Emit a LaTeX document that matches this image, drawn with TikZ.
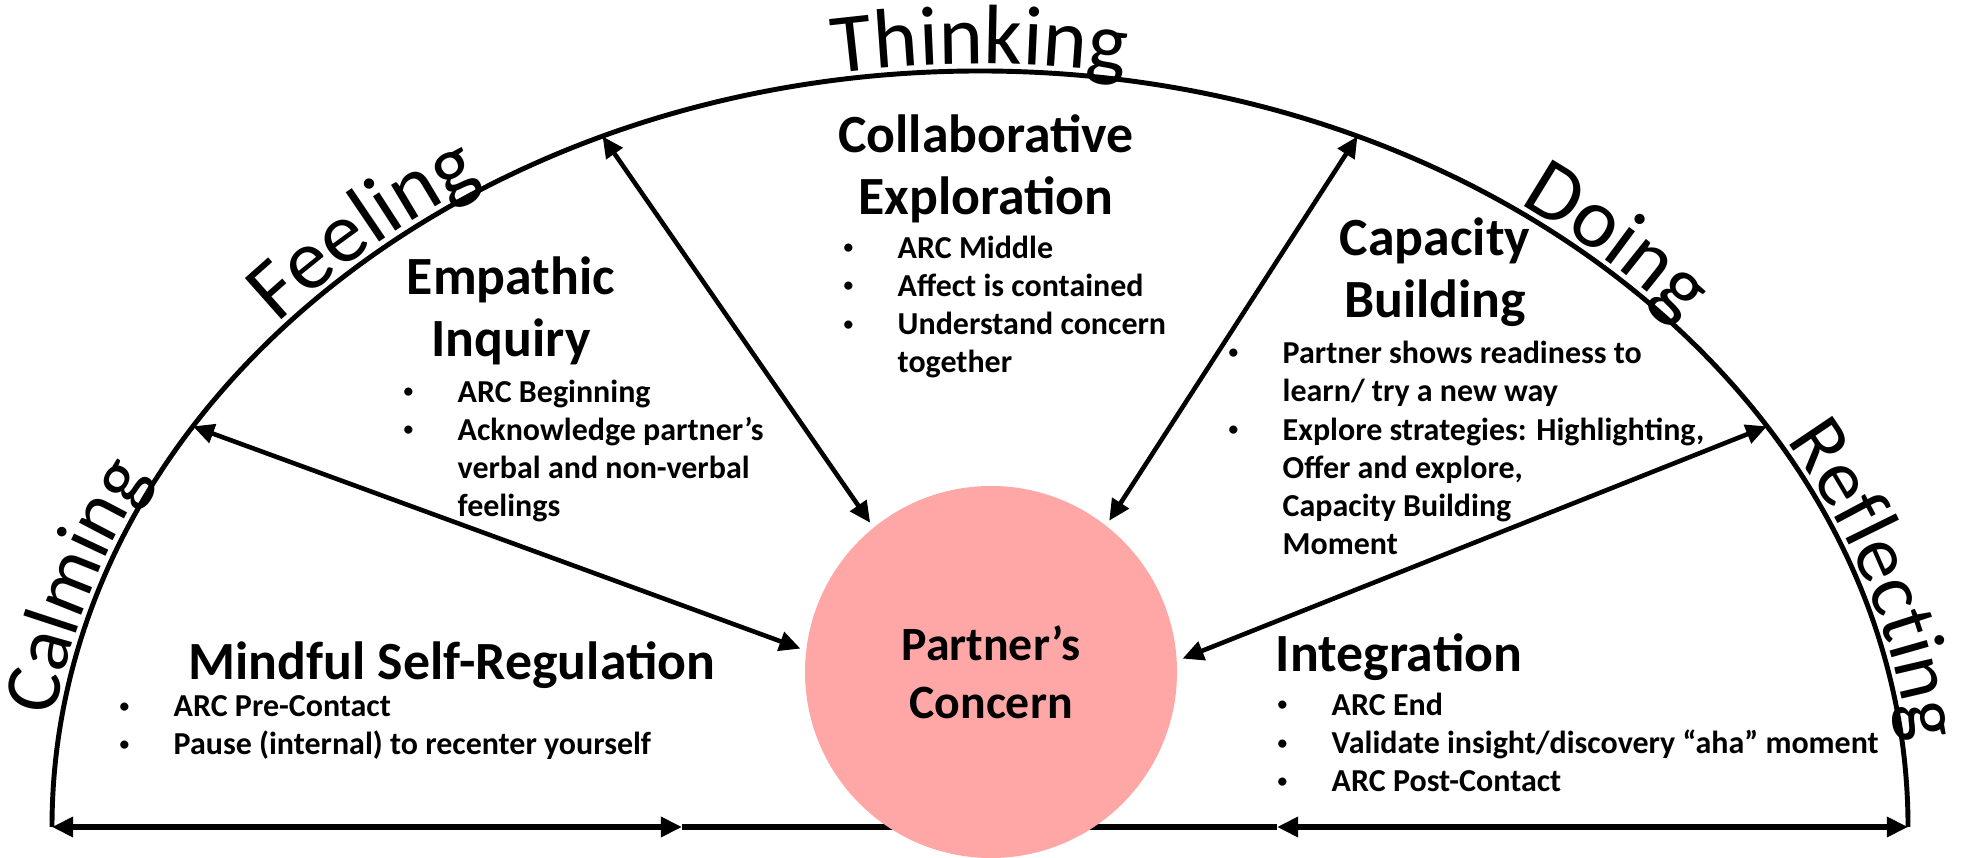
\documentclass[tikz,border=0pt]{standalone}
\usepackage{fontspec}
\setmainfont{Carlito}
\usepackage{tikz}
\usetikzlibrary{arrows.meta,decorations.text}

\definecolor{concernpink}{RGB}{255,166,166}

\newcommand{\labelsize}{24}
\newcommand{\labelfont}{\fontsize{\labelsize}{29}\selectfont}
\newcommand{\titlefont}{\fontsize{15.3}{17.9}\selectfont\bfseries}
\newcommand{\itemfont}{\fontsize{9.1}{10.9}\selectfont\bfseries}
\newcommand{\concernfont}{\fontsize{13.6}{16.5}\selectfont\bfseries}

\newlength{\bulw}
\setlength{\bulw}{0.54cm}
\newcommand{\bul}{\makebox[\bulw][l]{\raisebox{1.3pt}{\fontsize{5.5}{5.5}\selectfont\textbullet}}}
\newcommand{\cont}{\hspace*{\bulw}}

% word set along the outside of the half ellipse
\newcommand{\arclabel}[4][24]{%
        \renewcommand{\labelsize}{#1}%
        \path[decorate, decoration={text along path, text align=center, text={|\labelfont|#4}}]
                ([shift={(centre)}]#2:9.35cm and 7.63cm) arc[start angle=#2, end angle=#3, x radius=9.35, y radius=7.63];}

\begin{document}
\begin{tikzpicture}[
        stagetitle/.style={font=\titlefont, align=center, inner sep=0pt, anchor=base},
        stageitems/.style={font=\itemfont, align=left, inner sep=0pt, anchor=base west},
        rim/.style={line width=1.4pt},
        floor line/.style={line width=1.8pt},
        link/.style={line width=1.3pt},
        >={Triangle[length=6pt,width=5.5pt]}
        ]
        \useasboundingbox (0,0) rectangle (19.64,8.58);

        \coordinate (centre) at (9.80,0.31);
        \coordinate (baseL) at ([shift={(centre)}]180:9.28cm and 7.56cm);
        \coordinate (baseR) at ([shift={(centre)}]0:9.28cm and 7.56cm);
        \coordinate (midL) at (6.82,0.31);
        \coordinate (midR) at (12.77,0.31);

        \coordinate (calmFeel) at ([shift={(centre)}]148:9.28cm and 7.56cm);
        \coordinate (feelThink) at ([shift={(centre)}]114:9.28cm and 7.56cm);
        \coordinate (thinkDo) at ([shift={(centre)}]66:9.28cm and 7.56cm);
        \coordinate (doReflect) at ([shift={(centre)}]32:9.28cm and 7.56cm);

        \draw[rim] (baseL) arc[start angle=180, end angle=0, x radius=9.28, y radius=7.56];

        \draw[floor line, <->] (baseL) -- (midL);
        \draw[floor line] (midL) -- (midR);
        \draw[floor line, <->] (midR) -- (baseR);

        \node[circle, fill=concernpink, minimum size=3.72cm, inner sep=0pt, outer sep=0.06cm,
                font=\concernfont, align=center] (concern) at (9.91,1.86) {Partner’s\\Concern};

        \draw[link, <->] (calmFeel) -- (concern.173);
        \draw[link, <->] (feelThink) -- (concern.129);
        \draw[link, <->] (thinkDo) -- (concern.52);
        \draw[link, <->] (doReflect) -- (concern.4);

        \arclabel[22.6]{182.5}{142.5}{Calming}
        \arclabel[24.4]{151}{111}{Feeling}
        \arclabel[24]{112}{68}{Thinking}
        \arclabel[24.2]{67.5}{27.5}{Doing}
        \arclabel[23]{40.5}{-4.5}{Reflecting}

        \node[stagetitle] (mindful) at (4.52,1.78) {Mindful Self-Regulation};
        \node[stageitems] (mindfulList) at (1.19,1.03)
                {\bul ARC Pre-Contact\\ \bul Pause (internal) to recenter yourself};

        \node[stagetitle] (empathic) at (5.11,5.01) {Empathic\\Inquiry};
        \node[stageitems] (empathicList) at (4.03,3.41)
                {\bul ARC Beginning\\ \bul Acknowledge partner’s\\ \cont verbal and non-verbal\\ \cont feelings};

        \node[stagetitle] (collab) at (9.86,6.43) {Collaborative\\Exploration};
        \node[stageitems] (collabList) at (8.43,4.85)
                {\bul ARC Middle\\ \bul Affect is contained\\ \bul Understand concern\\ \cont together};

        \node[stagetitle] (capacity) at (14.35,5.40) {Capacity\\Building};
        \node[stageitems] (capacityList) at (12.28,3.03)
                {\bul Partner shows readiness to\\ \cont learn/ try a new way\\ \bul Explore strategies: Highlighting,\\
                 \cont Offer and explore,\\ \cont Capacity Building\\ \cont Moment};

        \node[stagetitle, anchor=base west] (integration) at (12.75,1.86) {Integration};
        \node[stageitems] (integrationList) at (12.77,0.66)
                {\bul ARC End\\ \bul Validate insight/discovery “aha” moment\\ \bul ARC Post-Contact};

\end{tikzpicture}
\end{document}
